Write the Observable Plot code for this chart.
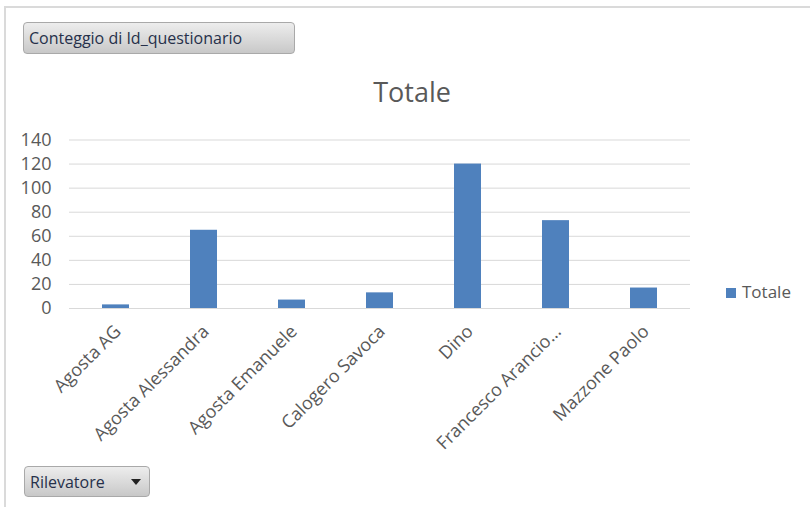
<!DOCTYPE html>
<html><head><meta charset="utf-8">
<script src="https://cdn.jsdelivr.net/npm/d3@7"></script>
<script src="https://cdn.jsdelivr.net/npm/@observablehq/plot@0.6"></script>
<style>
body{margin:0;background:#fff;font-family:"Open Sans",sans-serif;}
#wrap{position:relative;width:810px;height:507px;overflow:hidden;background:#fff;}
#chart{position:absolute;left:0;top:0;}
.frame-top{position:absolute;left:4px;top:6px;width:806px;height:2px;background:#dadada;}
.frame-left{position:absolute;left:4px;top:6px;width:2px;height:501px;background:#dadada;}
.btn{position:absolute;box-sizing:border-box;border:1px solid #a9a9a9;border-radius:4px;background:linear-gradient(#ededed,#c8c8c8);color:#26304a;font-size:16px;line-height:30px;padding-left:5px;white-space:nowrap;}
#title{position:absolute;left:0;width:824px;top:73px;text-align:center;font-size:27px;color:#595959;}
#legend{position:absolute;left:726px;top:280px;font-size:17px;color:#595959;white-space:nowrap;}
#legend .sw{display:inline-block;width:10px;height:10px;background:#4f81bd;margin-right:6px;vertical-align:0px;}
.arrow{position:absolute;right:8px;top:12px;width:0;height:0;border-left:5px solid transparent;border-right:5px solid transparent;border-top:6px solid #222;}
</style>
</head><body>
<div id="wrap">
  <div id="chart"></div>
  <div class="frame-top"></div>
  <div class="frame-left"></div>
  <div class="btn" id="b1" style="left:23px;top:22px;width:272px;height:32px;">Conteggio di Id_questionario</div>
  <div id="title">Totale</div>
  <div id="legend"><span class="sw"></span>Totale</div>
  <div class="btn" id="b2" style="left:24px;top:466px;width:126px;height:31px;">Rilevatore<span class="arrow"></span></div>
</div>
<script>
const rilevatori = ["Agosta AG", "Agosta Alessandra", "Agosta Emanuele", "Calogero Savoca", "Dino", "Francesco Arancio…", "Mazzone Paolo"];
const totale = [3, 65, 7, 13, 120, 73, 17];
const yTicks = [0, 20, 40, 60, 80, 100, 120, 140];
const seriesName = "Totale";

const data = rilevatori.map((r, i) => ({rilevatore: r, totale: totale[i]}));

const chart = Plot.plot({
  width: 810,
  height: 507,
  marginLeft: 69,
  marginRight: 120,
  marginTop: 139.5,
  marginBottom: 199,
  style: {fontFamily: "'Open Sans', sans-serif", color: "#595959", background: "transparent"},
  x: {domain: rilevatori, paddingInner: 0.69, paddingOuter: 0.345, label: null},
  y: {domain: [0, 140], label: null},
  marks: [
    Plot.gridY(yTicks, {stroke: "#d9d9d9", strokeOpacity: 1, strokeWidth: 1}),
    Plot.barY(data, {x: "rilevatore", y: "totale", fill: "#4f81bd"}),
    Plot.axisY(yTicks, {tickSize: 0, tickPadding: 18, fontSize: 18, label: null}),
    Plot.axisX({tickSize: 0, tickPadding: 20, tickRotate: -45, fontSize: 18, dx: 2, label: null})
  ]
});
document.getElementById("chart").appendChild(chart);
</script>
</body></html>
